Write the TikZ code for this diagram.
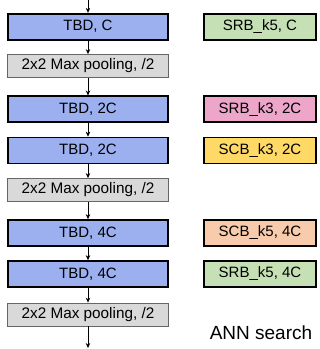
\documentclass[tikz,border=0pt]{standalone}
\usepackage{fontspec}
\setmainfont{Liberation Sans}
\usetikzlibrary{arrows.meta}
\definecolor{tbdblue}{HTML}{9CB0F0}
\definecolor{poolgray}{HTML}{D9D9D9}
\definecolor{srbgreen}{HTML}{C5E0B4}
\definecolor{srbpink}{HTML}{EDA5C9}
\definecolor{scbyellow}{HTML}{FFD966}
\definecolor{scborange}{HTML}{F8CBAD}
\tikzset{
  blk/.style={draw=black, line width=1.7pt, minimum height=26pt, inner sep=0pt, font=\fontsize{15}{17}\selectfont},
  tbd/.style={blk, fill=tbdblue, minimum width=160pt},
  pool/.style={draw=gray!80!black, line width=0.8pt, fill=poolgray, minimum width=161pt, minimum height=23pt, inner sep=0pt, font=\fontsize{15.3}{17}\selectfont},
  side/.style={blk, minimum width=112pt},
  arr/.style={-{Stealth[length=5pt,width=4.5pt]}, line width=0.7pt}
}
\begin{document}
\begin{tikzpicture}[x=1pt,y=-1pt]
\useasboundingbox (0,0) rectangle (320,349);
\coordinate (top) at (88,0);
\coordinate (bot) at (88,348);
\node[tbd] (b1) at (88,26.7) {TBD, C};
\node[pool] (p1) at (88,66) {2x2 Max pooling, /2};
\node[tbd] (b2) at (88,109.3) {TBD, 2C};
\node[tbd] (b3) at (88,150.5) {TBD, 2C};
\node[pool] (p2) at (88,190) {2x2 Max pooling, /2};
\node[tbd] (b4) at (88,233) {TBD, 4C};
\node[tbd] (b5) at (88,274) {TBD, 4C};
\node[pool] (p3) at (88,314.5) {2x2 Max pooling, /2};
\draw[arr] (top) -- (b1.north);
\draw[arr] (b1) -- (p1);
\draw[arr] (p1) -- (b2);
\draw[arr] (b2) -- (b3);
\draw[arr] (b3) -- (p2);
\draw[arr] (p2) -- (b4);
\draw[arr] (b4) -- (b5);
\draw[arr] (b5) -- (p3);
\draw[arr] (p3) -- (bot);
\node[side, fill=srbgreen] (s1) at (260,26.7) {SRB\_k5, C};
\node[side, fill=srbpink] (s2) at (260,109.3) {SRB\_k3, 2C};
\node[side, fill=scbyellow] (s3) at (260,150.5) {SCB\_k3, 2C};
\node[side, fill=scborange] (s4) at (260,233) {SCB\_k5, 4C};
\node[side, fill=srbgreen] (s5) at (260,274) {SRB\_k5, 4C};
\node[font=\fontsize{19}{21}\selectfont, inner sep=0pt] (ann) at (261,333) {ANN search};
\end{tikzpicture}
\end{document}
